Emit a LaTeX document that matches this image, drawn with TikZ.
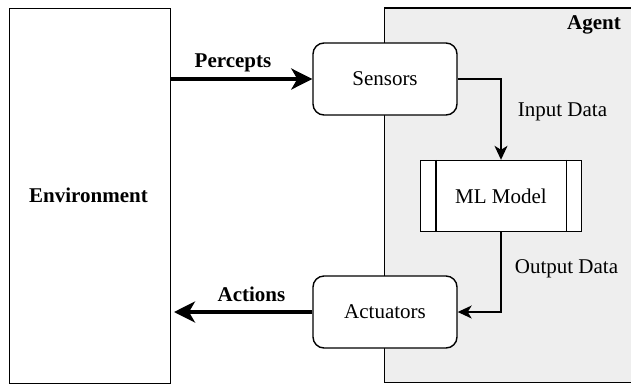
\documentclass[tikz,border=0pt]{standalone}
\usepackage{fontspec}
\setmainfont{Liberation Serif}
\usetikzlibrary{arrows.meta}
\begin{document}
\begin{tikzpicture}[x=1pt,y=-1pt,
  lbl/.style={font=\fontsize{21}{25}\selectfont, inner sep=0pt},
  blbl/.style={font=\fontsize{21}{25}\selectfont\bfseries, inner sep=0pt},
  rbox/.style={draw, line width=1.4pt, rounded corners=11pt, fill=white, minimum width=144pt, minimum height=72pt, font=\fontsize{21}{25}\selectfont},
  pbox/.style={draw, line width=1.4pt, fill=white, minimum width=161pt, minimum height=71pt, font=\fontsize{21}{25}\selectfont},
  bigarrow/.style={line width=3.6pt, -{Stealth[length=21pt,width=21pt,inset=6pt]}},
  thinarrow/.style={line width=1.4pt, -{Stealth[length=14pt,width=13pt,inset=4pt]}}]
\useasboundingbox (0,0) rectangle (631,384);
% Agent region
\fill[fill={rgb,255:red,238;green,238;blue,238}] (384.5,8) rectangle (640,382.5);
\draw[line width=1.4pt] (640,8) -- (384.5,8) -- (384.5,382.5) -- (640,382.5);
\node[blbl, anchor=center] (agent) at (594,25) {Agent};
% Environment
\node[draw, line width=1.4pt, fill=white, minimum width=161pt, minimum height=374.5pt, anchor=north west, blbl] (env) at (9,8) {};
\node[blbl] (envlbl) at (88.5,195) {Environment};
% boxes
\node[rbox] (sens) at (385,79) {Sensors};
\node[rbox] (act) at (385,312) {Actuators};
\node[pbox] (ml) at (501,196) {ML Model};
\draw[line width=1.4pt] ([xshift=16pt]ml.north west) -- ([xshift=16pt]ml.south west);
\draw[line width=1.4pt] ([xshift=-16pt]ml.north east) -- ([xshift=-16pt]ml.south east);
% arrows
\draw[bigarrow] (env.east |- sens.west) -- (sens.west);
\coordinate (actend) at (174,312);
\draw[bigarrow] (act.west) -- (actend);
\draw[thinarrow] (sens.east) -| (ml.north);
\draw[thinarrow] (ml.south) |- (act.east);
% labels
\node[blbl] (perc) at (233,63) {Percepts};
\node[blbl] (actions) at (251.5,294.5) {Actions};
\node[lbl] (inp) at (562.5,111.5) {Input Data};
\node[lbl] (outp) at (566.5,268.5) {Output Data};
\end{tikzpicture}
\end{document}
